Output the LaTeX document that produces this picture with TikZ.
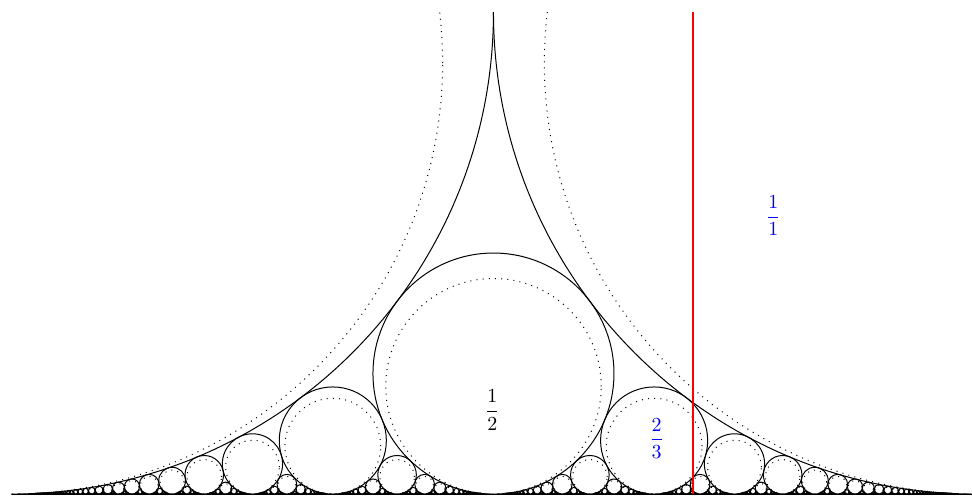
\documentclass[tikz,border=0pt]{standalone}
\usepackage{xcolor}
\usepackage{tikz}
\usepackage{amsmath}
\usetikzlibrary{calc}
\definecolor{fdCut}{HTML}{FF0000}
\definecolor{fdConv}{HTML}{0000FF}
\tikzset{
  ford/.style={draw=black, line width=0.5pt},
  hurwitz/.style={draw=black, line width=0.5pt, dash pattern=on 0.5pt off 2.6pt},
  cutline/.style={draw=fdCut, line width=0.7pt},
  fraclabel/.style={inner sep=0pt, font=\normalsize},
  convlabel/.style={fraclabel, text=fdConv}
}
\begin{document}
\begin{tikzpicture}[x=17cm, y=17cm]
  \useasboundingbox (-0.0119,-0.0021) rectangle (0.9964,0.5125);
  \begin{scope}
    \clip (0,-0.01) rectangle (1.01,0.5);
    \draw[ford] (0,0) -- (1,0);
    \foreach \q in {1,...,40}{
      \foreach \p in {0,...,\q}{
        \pgfmathtruncatemacro{\g}{gcd(\p,\q)}
        \ifnum\g=1
          \draw[ford] ({\p/\q},{1/(2*\q*\q)}) circle[radius={1/(2*\q*\q)}];
          \draw[hurwitz] ({\p/\q},{1/(sqrt(5)*\q*\q)}) circle[radius={1/(sqrt(5)*\q*\q)}];
        \fi
      }
    }
    \draw[cutline] ({1/sqrt(2)},0) -- ({1/sqrt(2)},0.5);
  \end{scope}
  \node[fraclabel] (half) at (0.4988,0.0871) {$\dfrac{1}{2}$};
  \node[convlabel] (twothirds) at (0.6693,0.0576) {$\dfrac{2}{3}$};
  \node[convlabel] (one) at (0.7903,0.2887) {$\dfrac{1}{1}$};
\end{tikzpicture}
\end{document}
